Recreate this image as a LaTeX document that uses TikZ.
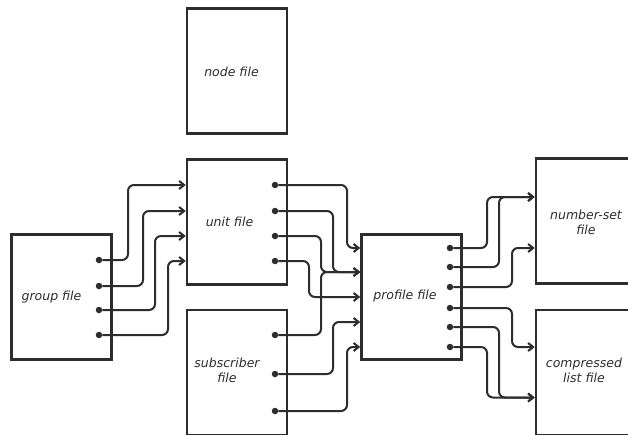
\documentclass[tikz,border=0pt]{standalone}
\usepackage{fontspec}
\newfontfamily\letterfont{DejaVu Sans}
\usepackage{tikz}
\usetikzlibrary{arrows.meta,positioning,calc}
\definecolor{inkgray}{RGB}{45,45,45}

\begin{document}
\begin{tikzpicture}[x=1pt,y=-1pt,
    filebox/.style={draw=inkgray,line width=2.6pt,minimum width=100pt,minimum height=125pt,inner sep=0pt},
    boxtext/.style={font=\letterfont\itshape\fontsize{12.5}{15}\selectfont,text=inkgray,align=center,inner sep=0pt},
    port/.style={circle,fill=inkgray,inner sep=0pt,minimum size=6.5pt},
    link/.style={draw=inkgray,line width=2pt,rounded corners=6pt,-{Straight Barb[length=5pt,width=8pt]}}]
        \useasboundingbox[fill=white] (0,0) rectangle (628,434);
        % files
        \node[filebox] (nodefile) at (237,71) {};
        \node[filebox] (unit) at (237,222) {};
        \node[filebox] (group) at (61.5,297) {};
        \node[filebox] (subscriber) at (237,372.5) {};
        \node[filebox] (profile) at (411.5,297) {};
        \node[filebox] (numberset) at (586,221) {};
        \node[filebox] (compressed) at (586,372.5) {};
        \node[boxtext] (nodetext) at (231.5,72) {node file};
        \node[boxtext] (unittext) at (229.5,222) {unit file};
        \node[boxtext] (grouptext) at (51.5,297) {group file};
        \node[boxtext] (subscribertext) at (227,370) {subscriber\\file};
        \node[boxtext] (profiletext) at (405,296) {profile file};
        \node[boxtext] (numbersettext) at (586,222) {number-set\\file};
        \node[boxtext] (compressedtext) at (584,370) {compressed\\list file};
        % ports
        \node[port] (g1) at (99,260) {};
        \node[port] (g2) at (99,286) {};
        \node[port] (g3) at (99,310) {};
        \node[port] (g4) at (99,335) {};
        \node[port] (u1) at (275,185) {};
        \node[port] (u2) at (275,211) {};
        \node[port] (u3) at (275,236) {};
        \node[port] (u4) at (275,261) {};
        \node[port] (s1) at (275,335) {};
        \node[port] (s2) at (275,374) {};
        \node[port] (s3) at (275,411) {};
        \node[port] (p1) at (450,248) {};
        \node[port] (p2) at (450,267) {};
        \node[port] (p3) at (450,287) {};
        \node[port] (p4) at (450,308) {};
        \node[port] (p5) at (450,327) {};
        \node[port] (p6) at (450,347) {};
        % group -> unit
        \draw[link] (g1) -- ++(29,0) |- (unit.west |- u1);
        \draw[link] (g2) -- ++(44,0) |- (unit.west |- u2);
        \draw[link] (g3) -- ++(56,0) |- (unit.west |- u3);
        \draw[link] (g4) -- ++(69,0) |- (unit.west |- u4);
        % unit, subscriber -> profile
        \draw[link] (u1) -- ++(72,0) |- (profile.west |- p1);
        \draw[link] (u2) -- ++(58,0) |- ([yshift=25pt]profile.west);
        \draw[link] (u3) -- ++(46,0) |- ([yshift=25pt]profile.west);
        \draw[link] (u4) -- ++(34,0) |- (profile.west);
        \draw[link] (s1) -- ++(46,0) |- ([yshift=25pt]profile.west);
        \draw[link] (s2) -- ++(58,0) |- ([yshift=-25pt]profile.west);
        \draw[link] (s3) -- ++(72,0) |- (profile.west |- p6);
        % profile -> number-set, compressed
        \draw[link] (p1) -- ++(37,0) |- ([yshift=24pt]numberset.west);
        \draw[link] (p2) -- ++(49,0) |- ([yshift=24pt]numberset.west);
        \draw[link] (p3) -- ++(62,0) |- (numberset.west |- p1);
        \draw[link] (p4) -- ++(62,0) |- (compressed.west |- p6);
        \draw[link] (p5) -- ++(49,0) |- ([yshift=-25pt]compressed.west);
        \draw[link] (p6) -- ++(37,0) |- ([yshift=-25pt]compressed.west);
      \end{tikzpicture}
\end{document}
